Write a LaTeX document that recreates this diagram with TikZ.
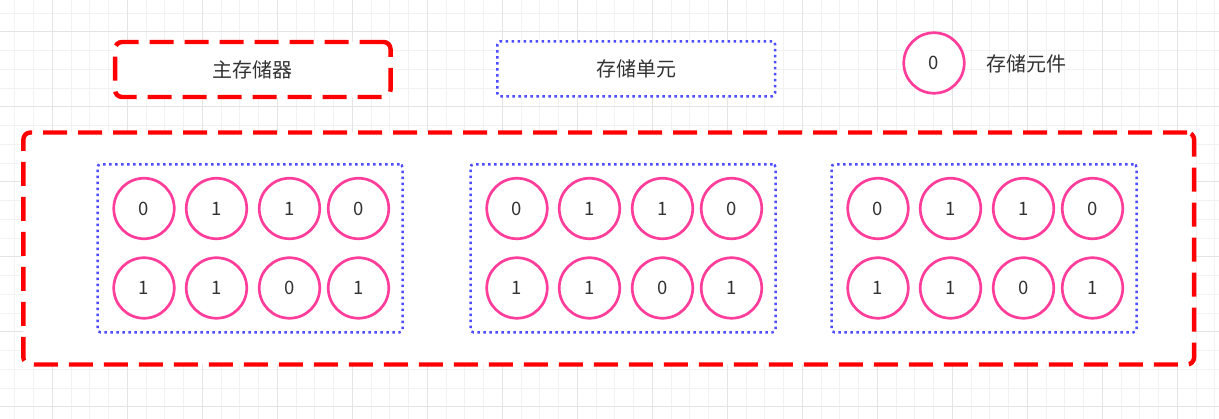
\documentclass[tikz,border=0pt]{standalone}
\usepackage{fontspec}
\usepackage{xcolor}
\newfontfamily\cjk{Noto Sans CJK SC}

\definecolor{memred}{HTML}{FF0000}
\definecolor{unitblue}{HTML}{4D4DFF}
\definecolor{cellpink}{HTML}{FF3D9A}
\definecolor{txtgray}{HTML}{333333}
\definecolor{gridminor}{HTML}{F2F2F2}
\definecolor{gridmajor}{HTML}{E4E4E4}

\tikzset{
  membox/.style={draw=memred, line width=4.4pt, dash pattern=on 24pt off 11pt,
    rounded corners=7pt, fill=white, inner sep=0pt},
  unitbox/.style={draw=unitblue, line width=2.5pt, dash pattern=on 2.5pt off 3.5pt,
    rounded corners=3pt, fill=white, inner sep=0pt},
  cell/.style={circle, draw=cellpink, line width=2.7pt, fill=white,
    minimum size=60.5pt, inner sep=0pt, text=txtgray,
    font=\cjk\fontsize{18.5}{22}\selectfont},
  keytext/.style={text=txtgray, inner sep=0pt, font=\cjk\fontsize{20}{24}\selectfont},
}

\begin{document}
\begin{tikzpicture}[x=1pt, y=-1pt]
\useasboundingbox (0,0) rectangle (1219,419);

%--- Background grid ---
\foreach \x in {14.8,33.55,...,1219} {
  \draw[gridminor, line width=1pt] (\x,0) -- (\x,419);
}
\foreach \y in {13.25,32,...,419} {
  \draw[gridminor, line width=1pt] (0,\y) -- (1219,\y);
}
\foreach \x in {52.3,127.3,...,1219} {
  \draw[gridmajor, line width=1pt] (\x,0) -- (\x,419);
}
\foreach \y in {32,107,...,419} {
  \draw[gridmajor, line width=1pt] (0,\y) -- (1219,\y);
}

%--- Legend ---
\node[membox, minimum width=275.5pt, minimum height=55pt] (memkey) at (252.8,69.5) {};
\node[keytext] at (memkey) {主存储器};

\node[unitbox, minimum width=277.7pt, minimum height=55pt] (unitkey) at (636.2,68.8) {};
\node[keytext] at (unitkey) {存储单元};

\node[cell] (cellkey) at (934,63) {0};
\node[keytext, anchor=west] (cellname) at (986,64) {存储元件};

%--- Main memory ---
\node[membox, minimum width=1170.7pt, minimum height=232pt] (mem) at (608.7,248.5) {};

% Storage units, each holding 2 x 4 cells
\foreach \u/\ux in {1/250, 2/623, 3/984} {
  \node[unitbox, minimum width=305pt, minimum height=168pt] (u\u) at (\ux,248.3) {};
  \foreach \c/\dx/\a/\b in {1/-106/0/1, 2/-33.5/1/1, 3/39.5/1/0, 4/108.5/0/1} {
    \node[cell] (c\u-\c-a) at (\ux+\dx,208.5) {\a};
    \node[cell] (c\u-\c-b) at (\ux+\dx,288) {\b};
  }
}
\end{tikzpicture}
\end{document}
